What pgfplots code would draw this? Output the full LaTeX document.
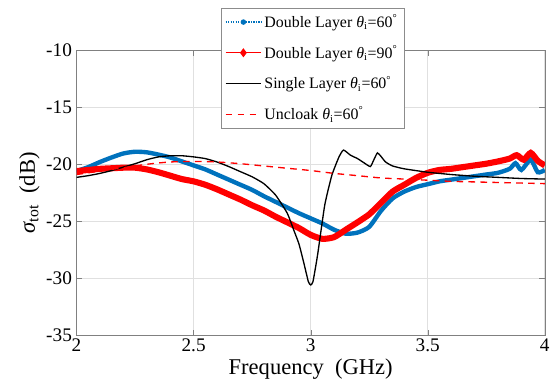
\documentclass[border=0pt]{standalone}
\usepackage{fontspec}
\setmainfont{Liberation Serif}
\usepackage{pgfplots}
\pgfplotsset{compat=1.18}
\definecolor{mblue}{rgb}{0,0.447,0.741}
\begin{document}
\begin{tikzpicture}
\begin{axis}[
  scale only axis,
  width=353.25pt, height=214.7pt,
  xmin=2, xmax=4, ymin=-35, ymax=-10,
  xtick={2,2.5,3,3.5,4}, xticklabels={2,2.5,3,3.5,4},
  ytick={-35,-30,-25,-20,-15,-10}, yticklabels={-35,-30,-25,-20,-15,-10},
  tick label style={font=\fontsize{14.5}{16}\selectfont},
  xticklabel style={yshift=1pt},
  label style={font=\fontsize{17}{19}\selectfont},
  xlabel={Frequency\ \ (GHz)},
  ylabel={{\itshape σ}\textsubscript{tot}\ \ (dB)},
  xlabel style={yshift=1pt},
  ylabel style={yshift=-2pt},
  grid=major,
  major grid style={black!12, line width=0.5pt},
  axis line style={black!50},
  tick style={black!50},
  tick align=inside,
  major tick length=4pt,
  xtick pos=both, ytick pos=both,
  legend style={at={(rel axis cs:0.308,1.150)}, anchor=north west,
    font=\fontsize{12}{14}\selectfont, draw=black!45, fill=white,
    row sep=8pt, inner sep=3pt},
  legend cell align=left,
  legend image code/.code={\draw[mark repeat=2,mark phase=2,#1] plot coordinates {(0cm,0cm) (0.47cm,0cm) (0.94cm,0cm)};},
]
\addlegendimage{color=mblue, densely dotted, line width=0.9pt, mark=*, mark size=1.6pt, mark options={solid}}
\addlegendentry{Double Layer {\itshape θ}\textsubscript{i}=60\textsuperscript{°}}
\addlegendimage{color=red, solid, line width=1pt, mark=diamond*, mark size=2.6pt}
\addlegendentry{Double Layer {\itshape θ}\textsubscript{i}=90\textsuperscript{°}}
\addlegendimage{color=black, solid, line width=1pt}
\addlegendentry{Single Layer {\itshape θ}\textsubscript{i}=60\textsuperscript{°}}
\addlegendimage{color=red, dashed, line width=1pt, dash pattern=on 5pt off 4pt}
\addlegendentry{Uncloak {\itshape θ}\textsubscript{i}=60\textsuperscript{°}}

% Double Layer 60 (blue)
\addplot[forget plot, color=mblue, line width=3.3pt, smooth, tension=0.4] coordinates {
(2.00,-20.6) (2.05,-20.25) (2.10,-19.8) (2.15,-19.4) (2.20,-19.05) (2.25,-18.9)
(2.30,-18.95) (2.35,-19.15) (2.40,-19.4) (2.45,-19.75) (2.50,-20.1) (2.55,-20.45)
(2.60,-20.9) (2.65,-21.35) (2.70,-21.8) (2.75,-22.25) (2.80,-22.8) (2.85,-23.3)
(2.90,-23.8) (2.95,-24.3) (3.00,-24.75) (3.05,-25.2) (3.10,-25.75) (3.15,-26.1)
(3.20,-26.0) (3.25,-25.5) (3.30,-24.1) (3.35,-23.0) (3.40,-22.4) (3.45,-22.0)
(3.50,-21.75) (3.55,-21.5) (3.60,-21.35) (3.65,-21.2) (3.70,-21.05) (3.75,-20.9)
(3.80,-20.75) (3.85,-20.4) (3.875,-19.9) (3.90,-20.5) (3.94,-19.6) (3.97,-20.7) (4.00,-20.5)
};
% Double Layer 90 (red)
\addplot[forget plot, color=red, line width=4.6pt, smooth, tension=0.4] coordinates {
(2.00,-20.6) (2.05,-20.5) (2.10,-20.4) (2.15,-20.35) (2.20,-20.3) (2.25,-20.3)
(2.30,-20.45) (2.35,-20.7) (2.40,-21.0) (2.45,-21.3) (2.50,-21.5) (2.55,-21.8)
(2.60,-22.2) (2.65,-22.65) (2.70,-23.1) (2.75,-23.6) (2.80,-24.05) (2.85,-24.6)
(2.90,-25.1) (2.95,-25.6) (3.00,-26.2) (3.05,-26.55) (3.10,-26.4) (3.15,-25.75)
(3.20,-25.1) (3.25,-24.4) (3.30,-23.4) (3.35,-22.4) (3.40,-21.8) (3.45,-21.2)
(3.50,-20.75) (3.55,-20.5) (3.60,-20.4) (3.65,-20.25) (3.70,-20.1) (3.75,-19.95)
(3.80,-19.75) (3.85,-19.5) (3.88,-19.2) (3.91,-19.6) (3.94,-19.0) (3.97,-19.7) (4.00,-20.1)
};
% Single Layer 60 (black)
\addplot[forget plot, color=black, line width=1pt, smooth, tension=0.3] coordinates {
(2.00,-21.15) (2.05,-21.0) (2.10,-20.8) (2.15,-20.55) (2.20,-20.25) (2.25,-19.95)
(2.30,-19.6) (2.35,-19.35) (2.40,-19.25) (2.45,-19.25) (2.50,-19.35) (2.55,-19.5)
(2.60,-19.8) (2.65,-20.2) (2.70,-20.65) (2.75,-21.1) (2.80,-21.7) (2.85,-22.7)
(2.90,-24.3) (2.93,-25.9) (2.95,-27.0) (2.97,-28.6) (2.99,-30.3) (3.00,-30.6)
(3.01,-30.3) (3.03,-27.9) (3.06,-23.6) (3.09,-21.0) (3.12,-19.4) (3.14,-18.75)
(3.17,-19.2) (3.20,-19.5) (3.23,-19.9) (3.255,-20.2) (3.27,-19.6) (3.285,-19.0)
(3.30,-19.3) (3.32,-19.8) (3.35,-20.15) (3.40,-20.4) (3.50,-20.7) (3.60,-20.9)
(3.70,-21.05) (3.80,-21.15) (3.90,-21.25) (4.00,-21.3)
};
% Uncloak 60 (red dashed)
\addplot[forget plot, color=red, line width=1pt, dash pattern=on 5pt off 4pt, smooth] coordinates {
(2.0,-20.9) (2.1,-20.6) (2.2,-20.3) (2.3,-20.0) (2.4,-19.8) (2.5,-19.75) (2.6,-19.8)
(2.7,-19.95) (2.8,-20.15) (2.9,-20.35) (3.0,-20.55) (3.1,-20.8) (3.2,-21.0) (3.3,-21.2)
(3.4,-21.3) (3.5,-21.4) (3.6,-21.5) (3.7,-21.55) (3.8,-21.6) (3.9,-21.65) (4.0,-21.7)
};
\end{axis}
\path (-57.75pt,-39.75pt) rectangle (357.75pt,252.75pt);
\end{tikzpicture}
\end{document}
